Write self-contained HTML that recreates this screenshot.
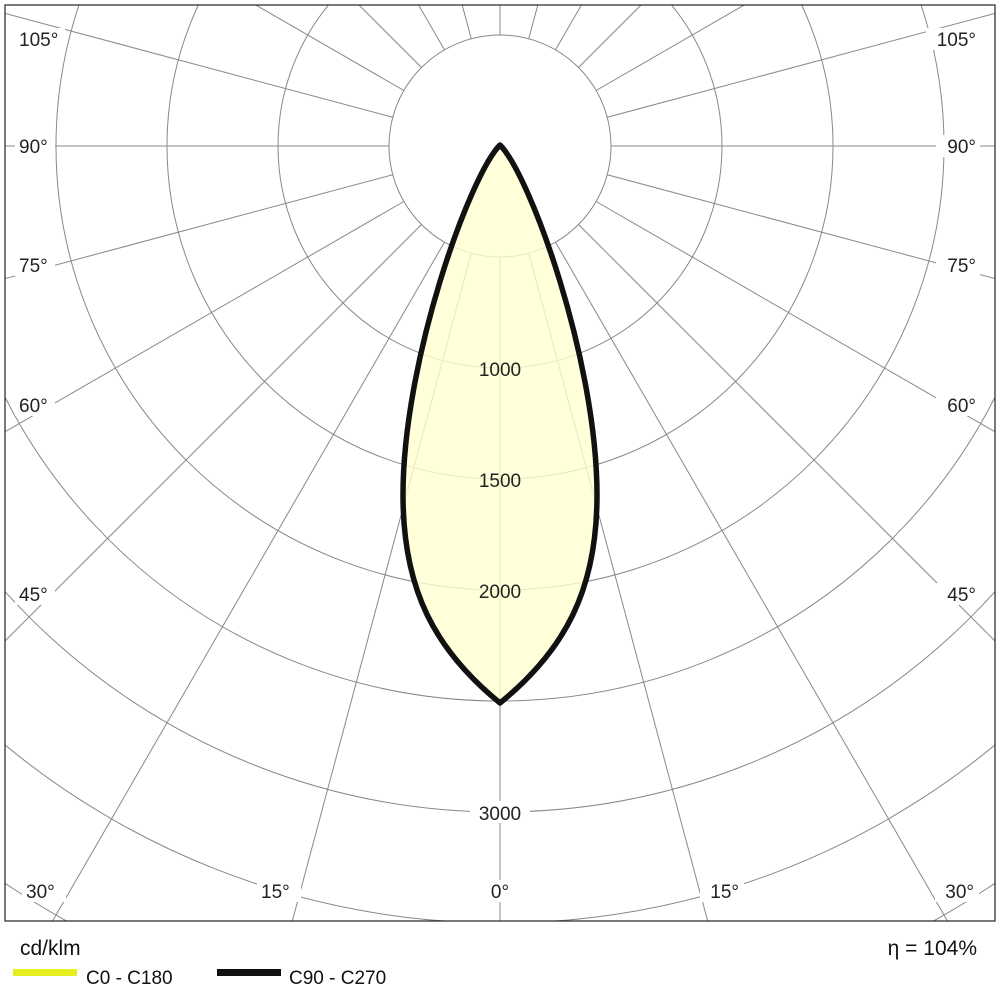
<!DOCTYPE html>
<html><head><meta charset="utf-8"><style>
html,body{margin:0;padding:0;background:#fff;width:1000px;height:1000px;overflow:hidden;}
svg{display:block;font-family:"Liberation Sans",Arial,sans-serif;}
</style></head><body>
<svg width="1000" height="1000" viewBox="0 0 1000 1000" xmlns="http://www.w3.org/2000/svg">
<defs><clipPath id="c"><rect x="5" y="5" width="990" height="916"/></clipPath></defs>
<rect width="1000" height="1000" fill="#fff"/>
<g clip-path="url(#c)" stroke="#888" stroke-width="1" fill="none">
<circle cx="500" cy="146" r="111"/>
<circle cx="500" cy="146" r="222"/>
<circle cx="500" cy="146" r="333"/>
<circle cx="500" cy="146" r="444"/>
<circle cx="500" cy="146" r="555"/>
<circle cx="500" cy="146" r="666"/>
<circle cx="500" cy="146" r="777"/>
<circle cx="500" cy="146" r="888"/>
<circle cx="500" cy="146" r="999"/>
<circle cx="500" cy="146" r="1110"/>
<line x1="500" y1="257" x2="500" y2="1500"/>
<line x1="500" y1="257" x2="500" y2="1500" transform="rotate(15 500 146)"/>
<line x1="500" y1="257" x2="500" y2="1500" transform="rotate(30 500 146)"/>
<line x1="500" y1="257" x2="500" y2="1500" transform="rotate(45 500 146)"/>
<line x1="500" y1="257" x2="500" y2="1500" transform="rotate(60 500 146)"/>
<line x1="500" y1="257" x2="500" y2="1500" transform="rotate(75 500 146)"/>
<line x1="500" y1="257" x2="500" y2="1500" transform="rotate(90 500 146)"/>
<line x1="500" y1="257" x2="500" y2="1500" transform="rotate(105 500 146)"/>
<line x1="500" y1="257" x2="500" y2="1500" transform="rotate(120 500 146)"/>
<line x1="500" y1="257" x2="500" y2="1500" transform="rotate(135 500 146)"/>
<line x1="500" y1="257" x2="500" y2="1500" transform="rotate(150 500 146)"/>
<line x1="500" y1="257" x2="500" y2="1500" transform="rotate(165 500 146)"/>
<line x1="500" y1="257" x2="500" y2="1500" transform="rotate(180 500 146)"/>
<line x1="500" y1="257" x2="500" y2="1500" transform="rotate(-15 500 146)"/>
<line x1="500" y1="257" x2="500" y2="1500" transform="rotate(-30 500 146)"/>
<line x1="500" y1="257" x2="500" y2="1500" transform="rotate(-45 500 146)"/>
<line x1="500" y1="257" x2="500" y2="1500" transform="rotate(-60 500 146)"/>
<line x1="500" y1="257" x2="500" y2="1500" transform="rotate(-75 500 146)"/>
<line x1="500" y1="257" x2="500" y2="1500" transform="rotate(-90 500 146)"/>
<line x1="500" y1="257" x2="500" y2="1500" transform="rotate(-105 500 146)"/>
<line x1="500" y1="257" x2="500" y2="1500" transform="rotate(-120 500 146)"/>
<line x1="500" y1="257" x2="500" y2="1500" transform="rotate(-135 500 146)"/>
<line x1="500" y1="257" x2="500" y2="1500" transform="rotate(-150 500 146)"/>
<line x1="500" y1="257" x2="500" y2="1500" transform="rotate(-165 500 146)"/>
</g>
<path d="M500,145 C470,175 403,360 403,495 C403,590 435,650 500,703 C565,650 597,590 597,495 C597,360 530,175 500,145 Z" fill="#ffffd0" fill-opacity="0.8" stroke="#111" stroke-width="5.5" stroke-linejoin="round"/>
<rect x="5" y="5" width="990" height="916" fill="none" stroke="#222" stroke-width="1.2"/>
<g font-size="19" fill="#222">
<text x="500" y="376" text-anchor="middle">1000</text>
<text x="500" y="487" text-anchor="middle">1500</text>
<text x="500" y="598" text-anchor="middle">2000</text>
<rect x="470" y="801" width="60" height="22" fill="#fff"/>
<text x="500" y="820" text-anchor="middle">3000</text>
<rect x="15" y="28" width="50" height="22" fill="#fff"/><text x="19" y="46">105°</text>
<rect x="15" y="135" width="40" height="22" fill="#fff"/><text x="19" y="153">90°</text>
<rect x="15" y="254" width="40" height="22" fill="#fff"/><text x="19" y="272">75°</text>
<rect x="15" y="394" width="40" height="22" fill="#fff"/><text x="19" y="412">60°</text>
<rect x="15" y="583" width="40" height="22" fill="#fff"/><text x="19" y="601">45°</text>
<rect x="22" y="880" width="44" height="22" fill="#fff"/><text x="26" y="898">30°</text>
<rect x="257" y="880" width="44" height="22" fill="#fff"/><text x="261" y="898">15°</text>
<rect x="484" y="880" width="32" height="22" fill="#fff"/><text x="500" y="898" text-anchor="middle">0°</text>
<rect x="700" y="880" width="44" height="22" fill="#fff"/><text x="739" y="898" text-anchor="end">15°</text>
<rect x="935" y="880" width="44" height="22" fill="#fff"/><text x="974" y="898" text-anchor="end">30°</text>
<rect x="926" y="28" width="54" height="22" fill="#fff"/><text x="976" y="46" text-anchor="end">105°</text>
<rect x="936" y="135" width="44" height="22" fill="#fff"/><text x="976" y="153" text-anchor="end">90°</text>
<rect x="936" y="254" width="44" height="22" fill="#fff"/><text x="976" y="272" text-anchor="end">75°</text>
<rect x="936" y="394" width="44" height="22" fill="#fff"/><text x="976" y="412" text-anchor="end">60°</text>
<rect x="936" y="583" width="44" height="22" fill="#fff"/><text x="976" y="601" text-anchor="end">45°</text>
</g>
<g fill="#111" font-size="21">
<text x="20" y="955">cd/klm</text>
<text x="977" y="955" text-anchor="end">η = 104%</text>
<rect x="13" y="969" width="64" height="7" fill="#e6ef1e"/>
<text x="86" y="984" font-size="19">C0 - C180</text>
<rect x="217" y="969" width="64" height="7" fill="#111"/>
<text x="289" y="984" font-size="19">C90 - C270</text>
</g>
</svg>
</body></html>
